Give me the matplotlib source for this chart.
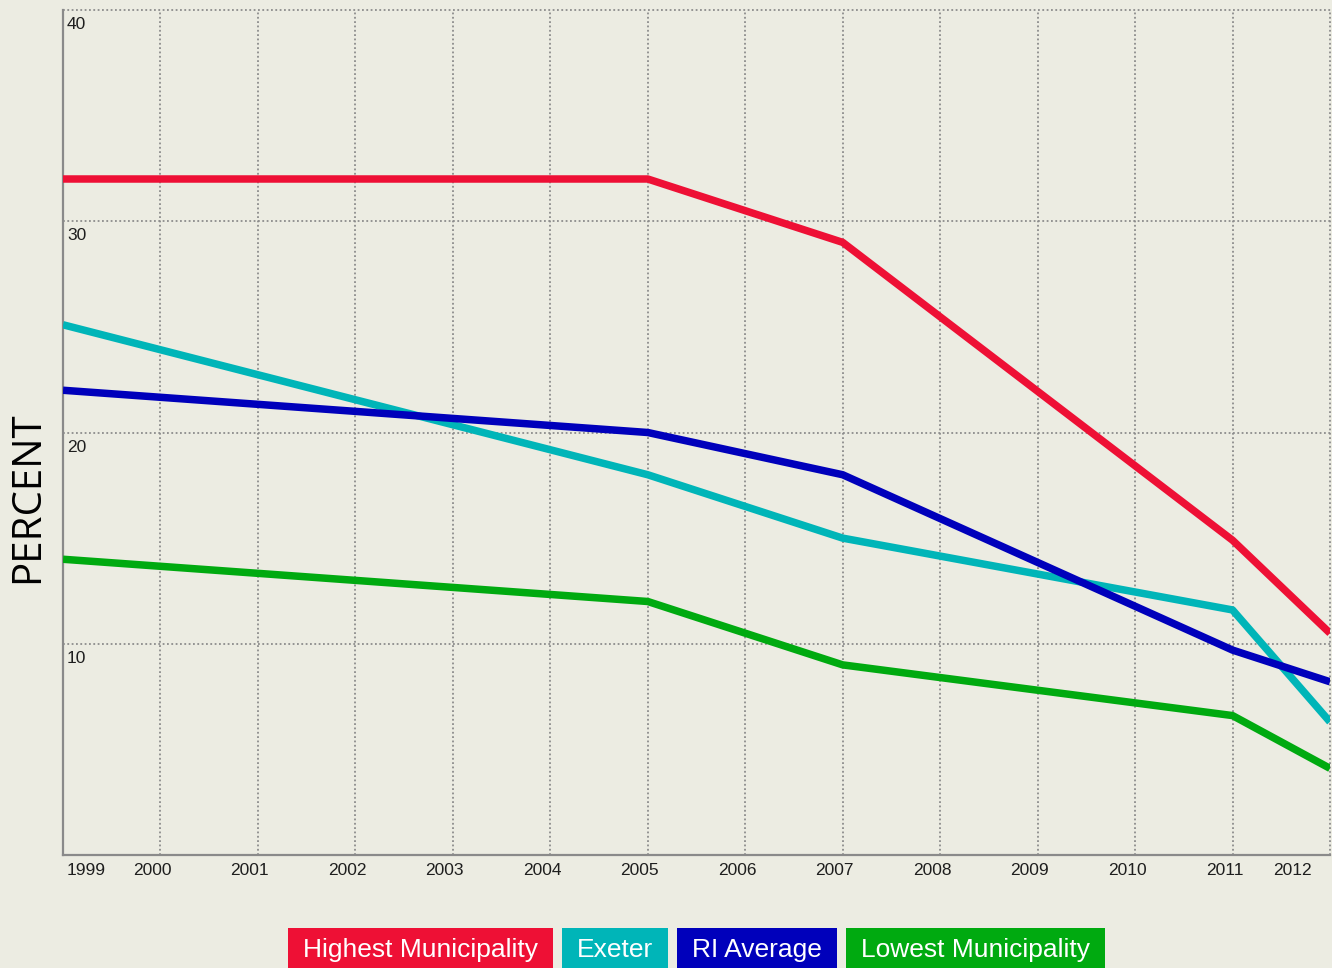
import matplotlib
matplotlib.use('Agg')
import matplotlib.pyplot as plt
from matplotlib.patches import Rectangle
from matplotlib.transforms import offset_copy, blended_transform_factory

# percent by year, break points only (lines are straight between them)
years = [1999, 2005, 2007, 2011, 2012]
highest = [32.0, 32.0, 29.0, 14.9, 10.5]
exeter = [25.1, 18.0, 15.0, 11.6, 6.3]
ri_average = [22.0, 20.0, 18.0, 9.7, 8.2]
lowest = [14.0, 12.0, 9.0, 6.6, 4.1]

series_names = ['Highest Municipality', 'Exeter', 'RI Average', 'Lowest Municipality']
series_values = [highest, exeter, ri_average, lowest]
series_colors = ['#EE1035', '#00B5B8', '#0000BB', '#00AA10']

year_ticks = list(range(1999, 2013))
percent_ticks = [10, 20, 30, 40]

W, H = 1332, 968
BG = '#ECECE2'
SANS = ['Liberation Sans', 'DejaVu Sans']

fig = plt.figure(figsize=(W / 100, H / 100), dpi=100)
fig.patch.set_facecolor(BG)
ax = fig.add_axes([63 / W, (H - 855) / H, (1330 - 63) / W, (855 - 10) / H])
ax.set_facecolor(BG)
ax.set_xlim(1999, 2012)
ax.set_ylim(0, 40)

# dotted grid, drawn by hand so edge lines are not clipped in half
grid_kw = dict(color='#8c8c8c', lw=1.3, ls=(0, (1, 1.4)), zorder=1, clip_on=False)
for yr in year_ticks[1:]:
    ax.axvline(yr, **grid_kw)
for p in percent_ticks:
    ax.axhline(p, xmin=0, xmax=1.0015, **grid_kw)

for vals, c in zip(series_values, series_colors):
    ax.plot(years, vals, color=c, lw=5.4, solid_joinstyle='round',
            solid_capstyle='butt', zorder=3)

for side in ['top', 'right']:
    ax.spines[side].set_visible(False)
for side in ['left', 'bottom']:
    ax.spines[side].set_color('#8a8a8a')
    ax.spines[side].set_linewidth(1.6)
ax.set_xticks([])
ax.set_yticks([])

# y labels sit inside the plot, just under their gridline
for p in percent_ticks:
    tr = offset_copy(ax.transData, fig=fig, x=4, y=-7, units='dots')
    ax.text(1999, p, str(p), transform=tr, ha='left', va='top',
            fontsize=12.5, family=SANS, color='#1e1e1e')

# year labels, nudged left of their gridline
xb = blended_transform_factory(ax.transData, ax.transAxes)
for yr in year_ticks:
    if yr == 1999:
        dx, ha = 4, 'left'
    elif yr == 2012:
        dx, ha = -18, 'right'
    else:
        dx, ha = -8, 'center'
    tr = offset_copy(xb, fig=fig, x=dx, y=-8, units='dots')
    ax.text(yr, 0, str(yr), transform=tr, ha=ha, va='top',
            fontsize=12.5, family=SANS, color='#1e1e1e', clip_on=False)

fig.text(28 / W, 1 - 497 / H, 'PERCENT', rotation=90, ha='center', va='center',
         fontsize=29, family=['Open Sans', 'DejaVu Sans'], color='black')

# legend: coloured boxes with white labels, centred under the plot
fig.canvas.draw()
renderer = fig.canvas.get_renderer()
labels = []
widths = []
for name in series_names:
    t = fig.text(0, 0, name, fontsize=19, family=SANS, color='white',
                 ha='left', va='baseline', zorder=5)
    labels.append(t)
    widths.append(t.get_window_extent(renderer).width)

pad, gap = 15, 9
total = sum(w + 2 * pad for w in widths) + gap * (len(widths) - 1)
x = (63 + 1330) / 2 - total / 2
box_top, baseline = 928, 957
for t, w, c in zip(labels, widths, series_colors):
    fig.patches.append(Rectangle((x / W, 0), (w + 2 * pad) / W, (H - box_top) / H,
                                 transform=fig.transFigure, facecolor=c,
                                 edgecolor='none', zorder=4))
    t.set_position(((x + pad) / W, (H - baseline) / H))
    x += w + 2 * pad + gap

fig.savefig('out.png', dpi=100, facecolor=BG)
